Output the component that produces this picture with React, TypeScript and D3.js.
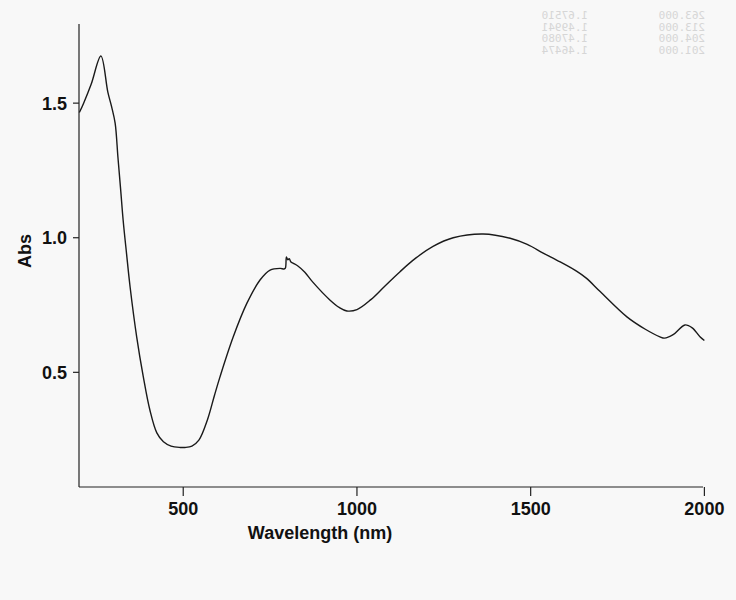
import React, { useEffect, useRef } from "react";
import * as d3 from "d3";

// spectrum (nm, Abs)
const wavelengths = [201, 213, 235, 263, 283, 294, 304, 312, 320, 327, 337, 347, 366, 385, 404, 424, 443, 465, 491, 505, 525, 545, 570, 590, 606, 644, 683, 721, 750, 779, 790, 794, 797, 801, 805, 810, 817, 830, 850, 873, 922, 950, 971, 1000, 1040, 1080, 1124, 1170, 1219, 1277, 1363, 1441, 1490, 1536, 1585, 1633, 1660, 1700, 1777, 1830, 1872, 1885, 1910, 1944, 1965, 1988, 2000];
const absorbance = [1.465, 1.499, 1.57, 1.675, 1.541, 1.486, 1.426, 1.3, 1.177, 1.066, 0.939, 0.818, 0.632, 0.484, 0.36, 0.275, 0.242, 0.226, 0.221, 0.221, 0.226, 0.248, 0.325, 0.415, 0.484, 0.632, 0.756, 0.843, 0.88, 0.886, 0.884, 0.887, 0.929, 0.918, 0.922, 0.91, 0.905, 0.895, 0.872, 0.835, 0.769, 0.74, 0.728, 0.733, 0.77, 0.82, 0.874, 0.925, 0.968, 1.0, 1.014, 0.998, 0.975, 0.943, 0.91, 0.875, 0.85, 0.8, 0.706, 0.66, 0.632, 0.627, 0.64, 0.676, 0.665, 0.631, 0.618];

const xTicks = [500, 1000, 1500, 2000];
const yTicks = [0.5, 1.0, 1.5];

// faint show-through from the back of the printout
const ghostWl = ["263.000", "213.000", "204.000", "201.000"];
const ghostAbs = ["1.67510", "1.49941", "1.47080", "1.46474"];

export default function App() {
  const ref = useRef<SVGSVGElement>(null);

  useEffect(() => {
    const svg = d3.select(ref.current);
    svg.selectAll("*").remove();

    const left = 79, right = 703, top = 24, bottom = 487;
    const x = d3.scaleLinear().domain([200, 1996]).range([left, right]);
    const y = d3.scaleLinear().domain([0.074, 1.794]).range([bottom, top]);

    svg.append("rect").attr("width", 736).attr("height", 600).attr("fill", "#f8f8f8");

    // ghost text, mirrored
    const ghost = svg.append("g").attr("transform", "translate(1248,0) scale(-1,1)")
      .style("font-family", "'DejaVu Sans Mono', monospace").style("font-size", "11px").attr("fill", "#d6d6d6");
    ghostWl.forEach((w, i) => {
      ghost.append("text").attr("x", 543).attr("y", 19 + i * 11.5).text(w);
      ghost.append("text").attr("x", 660).attr("y", 19 + i * 11.5).text(ghostAbs[i]);
    });

    const data = wavelengths.map((w, i) => [w, absorbance[i]] as [number, number]);
    const line = d3.line<[number, number]>()
      .x(d => x(d[0])).y(d => y(d[1]))
      .curve(d3.curveCatmullRom.alpha(0.5));

    svg.append("path").datum(data).attr("d", line)
      .attr("fill", "none").attr("stroke", "#1a1a1a").attr("stroke-width", 1.4);

    const font = "'Liberation Sans', Arial, sans-serif";
    const fs = "18px";

    // y axis
    svg.append("line").attr("x1", left).attr("x2", left).attr("y1", top).attr("y2", bottom)
      .attr("stroke", "#222").attr("stroke-width", 1.2);
    yTicks.forEach(t => {
      svg.append("line").attr("x1", left - 6).attr("x2", left).attr("y1", y(t)).attr("y2", y(t))
        .attr("stroke", "#222").attr("stroke-width", 1.2);
      svg.append("text").attr("x", left - 12).attr("y", y(t)).attr("dy", "0.36em")
        .attr("text-anchor", "end").style("font-family", font).style("font-weight", "bold")
        .style("font-size", fs).attr("fill", "#111").text(t.toFixed(1));
    });

    // x axis
    svg.append("line").attr("x1", left).attr("x2", right).attr("y1", bottom).attr("y2", bottom)
      .attr("stroke", "#222").attr("stroke-width", 1.2);
    xTicks.forEach(t => {
      svg.append("line").attr("x1", x(t)).attr("x2", x(t)).attr("y1", bottom).attr("y2", bottom + 9)
        .attr("stroke", "#222").attr("stroke-width", 1.2);
      svg.append("text").attr("x", x(t)).attr("y", 515)
        .attr("text-anchor", "middle").style("font-family", font).style("font-weight", "bold")
        .style("font-size", fs).attr("fill", "#111").text(t);
    });

    svg.append("text").attr("x", 320).attr("y", 539).attr("text-anchor", "middle")
      .style("font-family", font).style("font-weight", "bold").style("font-size", fs)
      .attr("fill", "#111").text("Wavelength (nm)");

    svg.append("text").attr("transform", "translate(31,251) rotate(-90)").attr("text-anchor", "middle")
      .style("font-family", font).style("font-weight", "bold").style("font-size", fs)
      .attr("fill", "#111").text("Abs");
  }, []);

  return (
    <svg ref={ref} width={736} height={600}
      style={{ position: "absolute", left: 0, top: 0, display: "block" }} />
  );
}
